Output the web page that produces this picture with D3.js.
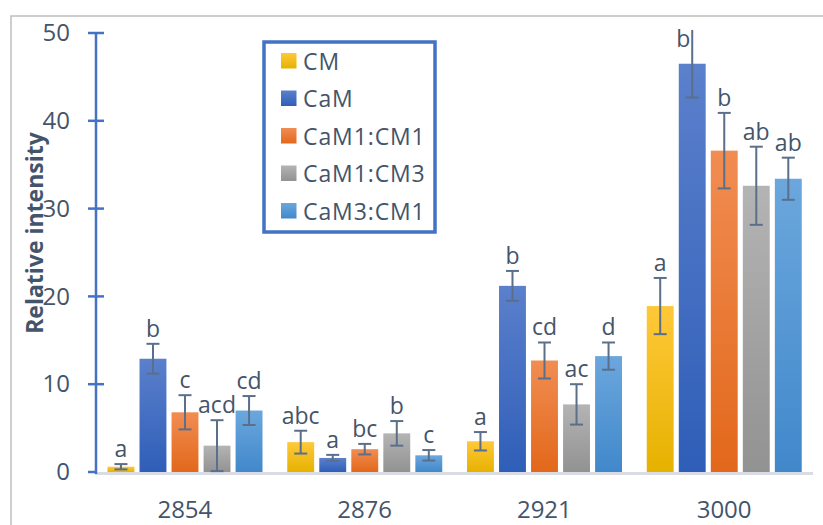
<!DOCTYPE html>
<html>
<head>
<meta charset="utf-8">
<script src="https://cdn.jsdelivr.net/npm/d3@7"></script>
<style>
  body { margin: 0; background: #fff; }
  text { font-family: "Open Sans", sans-serif; fill: #44546a; }
</style>
</head>
<body>
<div id="chart"></div>
<script>
// data
const categories = ["2854", "2876", "2921", "3000"];
const series = ["CM", "CaM", "CaM1:CM1", "CaM1:CM3", "CaM3:CM1"];
// values per series, one per category
const values = [
  [0.6, 3.4, 3.5, 18.9],
  [12.9, 1.6, 21.2, 46.5],
  [6.8, 2.6, 12.7, 36.6],
  [3.0, 4.4, 7.7, 32.6],
  [7.0, 1.9, 13.2, 33.4]
];
const errors = [
  [0.3, 1.3, 1.05, 3.2],
  [1.7, 0.35, 1.7, 3.85],
  [1.95, 0.6, 2.05, 4.3],
  [2.9, 1.4, 2.3, 4.45],
  [1.65, 0.6, 1.55, 2.4]
];
const letters = [
  ["a", "abc", "a", "a"],
  ["b", "a", "b", "b"],
  ["c", "bc", "cd", "b"],
  ["acd", "b", "ac", "ab"],
  ["cd", "c", "d", "ab"]
];
const yTicks = [0, 10, 20, 30, 40, 50];

// colours: [top, bottom] of each bar gradient
const colors = {
  "CM": ["#ffc83a", "#e6b200"],
  "CaM": ["#5b80cc", "#2f5eb8"],
  "CaM1:CM1": ["#f18d52", "#e2681b"],
  "CaM1:CM3": ["#b4b4b4", "#929292"],
  "CaM3:CM1": ["#6ba7dd", "#4188cb"]
};

const width = 823, height = 525;
const svg = d3.select("#chart").append("svg")
    .attr("width", width)
    .attr("height", height);

// chart border
svg.append("path")
    .attr("d", "M11,525 V16 H823")
    .attr("fill", "none")
    .attr("stroke", "#bfbfbf")
    .attr("stroke-width", 1.5);

const defs = svg.append("defs");
series.forEach((s, i) => {
  const g = defs.append("linearGradient")
      .attr("id", "grad" + i)
      .attr("x1", 0).attr("y1", 0).attr("x2", 0).attr("y2", 1);
  g.append("stop").attr("offset", "0%").attr("stop-color", colors[s][0]);
  g.append("stop").attr("offset", "100%").attr("stop-color", colors[s][1]);
});

const x0 = d3.scaleBand().domain(categories).range([95, 814]);
const x1 = d3.scaleBand().domain(series).range([12.5, 167.5]).paddingInner(0.16);
const y = d3.scaleLinear().domain([0, 50]).range([472, 33]);

// baseline
svg.append("line")
    .attr("x1", 95).attr("x2", 813)
    .attr("y1", y(0) + 1.5).attr("y2", y(0) + 1.5)
    .attr("stroke", "#d9dde3")
    .attr("stroke-width", 3);

// y axis
const yAxis = svg.append("g")
    .attr("transform", "translate(96,0)")
    .call(d3.axisLeft(y).tickValues(yTicks).tickSize(0).tickPadding(26));
yAxis.select(".domain").remove();
yAxis.selectAll("text")
    .attr("font-size", 24)
    .style("fill", "#44546a");
yAxis.append("line")
    .attr("y1", y(50)).attr("y2", y(0) + 2)
    .attr("stroke", "#4472c4").attr("stroke-width", 2.5);
yAxis.selectAll(".tickmark")
    .data(yTicks)
    .join("line")
    .attr("x1", -8).attr("x2", d => d === 0 ? 0 : 8)
    .attr("y1", d => y(d)).attr("y2", d => y(d))
    .attr("stroke", "#4472c4").attr("stroke-width", 2.5);

// y title
svg.append("text")
    .attr("transform", `translate(43,${233}) rotate(-90)`)
    .attr("text-anchor", "middle")
    .attr("font-size", 23)
    .attr("font-weight", "bold")
    .text("Relative intensity");

// x labels
svg.append("g").selectAll("text")
    .data(categories)
    .join("text")
    .attr("x", d => x0(d) + x0.bandwidth() / 2)
    .attr("y", 518)
    .attr("text-anchor", "middle")
    .attr("font-size", 24)
    .text(d => d);

// bars
const rows = [];
series.forEach((s, si) => {
  categories.forEach((c, ci) => {
    rows.push({ s, si, c, v: values[si][ci], e: errors[si][ci], l: letters[si][ci] });
  });
});

svg.append("g").selectAll("rect")
    .data(rows)
    .join("rect")
    .attr("x", d => x0(d.c) + x1(d.s))
    .attr("width", x1.bandwidth())
    .attr("y", d => y(d.v))
    .attr("height", d => y(0) - y(d.v))
    .attr("fill", d => `url(#grad${d.si})`);

// error bars
const eb = svg.append("g")
    .attr("stroke", "#5b6f8b")
    .attr("stroke-width", 2);
const cx = d => x0(d.c) + x1(d.s) + x1.bandwidth() / 2;
eb.selectAll(".v").data(rows).join("line")
    .attr("x1", cx).attr("x2", cx)
    .attr("y1", d => y(d.v + d.e))
    .attr("y2", d => y(Math.max(0, d.v - d.e)));
eb.selectAll(".top").data(rows.filter(d => y(d.v + d.e) > 40)).join("line")
    .attr("x1", d => cx(d) - 6.5).attr("x2", d => cx(d) + 6.5)
    .attr("y1", d => y(d.v + d.e)).attr("y2", d => y(d.v + d.e));
eb.selectAll(".bot").data(rows.filter(d => d.v - d.e > 0.05)).join("line")
    .attr("x1", d => cx(d) - 6.5).attr("x2", d => cx(d) + 6.5)
    .attr("y1", d => y(d.v - d.e)).attr("y2", d => y(d.v - d.e));

// significance letters
svg.append("g").selectAll("text")
    .data(rows)
    .join("text")
    .attr("x", d => y(d.v + d.e) > 40 ? cx(d) : cx(d) - 9)
    .attr("y", d => Math.max(y(d.v + d.e) - 7, 47))
    .attr("text-anchor", "middle")
    .attr("font-size", 23)
    .text(d => d.l);

// legend
const legend = svg.append("g");
legend.append("rect")
    .attr("x", 264).attr("y", 42)
    .attr("width", 171).attr("height", 190)
    .attr("fill", "#fff")
    .attr("stroke", "#4472c4")
    .attr("stroke-width", 3.5);
const item = legend.selectAll(".item")
    .data(series)
    .join("g")
    .attr("transform", (d, i) => `translate(281,${61 + i * 37.5})`);
item.append("rect")
    .attr("y", -8).attr("width", 15.5).attr("height", 15.5)
    .attr("fill", (d, i) => `url(#grad${i})`);
item.append("text")
    .attr("x", 22)
    .attr("y", 8.5)
    .attr("font-size", 23)
    .attr("letter-spacing", 0.9)
    .text(d => d);
</script>
</body>
</html>
